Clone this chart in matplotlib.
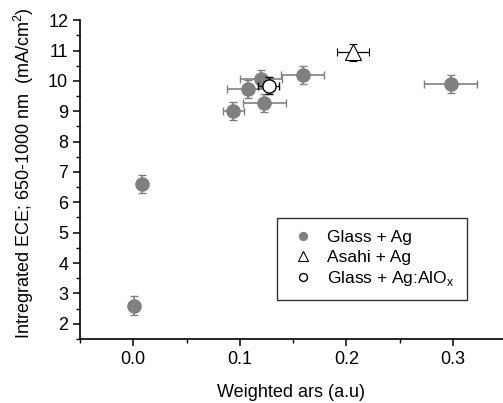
import matplotlib.pyplot as plt
from matplotlib.ticker import MultipleLocator

plt.rcParams['font.family'] = ['Liberation Sans', 'DejaVu Sans']

# Glass + Ag
glass_x = [0.001, 0.0085, 0.094, 0.108, 0.120, 0.123, 0.159, 0.298]
glass_y = [2.6, 6.6, 9.0, 9.72, 10.07, 9.28, 10.2, 9.9]
glass_xerr = [0.0, 0.0, 0.01, 0.02, 0.02, 0.02, 0.02, 0.025]
glass_yerr = [0.3, 0.3, 0.3, 0.3, 0.3, 0.3, 0.3, 0.3]

# Asahi + Ag
asahi_x = [0.206]
asahi_y = [10.95]
asahi_xerr = [0.015]
asahi_yerr = [0.28]

# Glass + Ag:AlOx
alox_x = [0.127]
alox_y = [9.84]
alox_xerr = [0.01]
alox_yerr = [0.28]

fig = plt.figure(figsize=(5.03, 4.03), dpi=100)
ax = fig.add_axes([0.159, 0.159, 0.841, 0.791])

gray = '#808080'
ax.errorbar(glass_x, glass_y, xerr=glass_xerr, yerr=glass_yerr, fmt='o',
            color=gray, ecolor=gray, ms=9.5, elinewidth=1.2, capsize=3,
            capthick=1, label='Glass + Ag')
ax.errorbar(asahi_x, asahi_y, xerr=asahi_xerr, yerr=asahi_yerr, fmt='^',
            mfc='white', mec='black', ecolor='black', ms=11, mew=0.8,
            elinewidth=0.9, capsize=3, capthick=0.9, label='Asahi + Ag')
ax.errorbar(alox_x, alox_y, xerr=alox_xerr, yerr=alox_yerr, fmt='o',
            mfc='white', mec='black', ecolor='black', ms=9.5, mew=1,
            elinewidth=0.9, capsize=3, capthick=0.9, label='Glass + Ag:AlO$_\\mathregular{x}$',
            zorder=3)

ax.set_xlim(-0.05, 0.347)
ax.set_ylim(1.5, 12)
ax.xaxis.set_major_locator(MultipleLocator(0.1))
ax.xaxis.set_minor_locator(MultipleLocator(0.05))
ax.yaxis.set_major_locator(MultipleLocator(1))
ax.yaxis.set_minor_locator(MultipleLocator(0.5))
ax.set_xticks([0.0, 0.1, 0.2, 0.3])
ax.set_xticklabels(['0.0', '0.1', '0.2', '0.3'])
ax.spines['top'].set_visible(False)
ax.spines['right'].set_visible(False)
ax.spines['left'].set_linewidth(1.2)
ax.spines['bottom'].set_linewidth(1.2)
ax.tick_params(which='major', direction='out', length=5, width=1.1, labelsize=13)
ax.tick_params(which='minor', direction='out', length=3, width=1)

ax.set_xlabel('Weighted ars (a.u)', fontsize=13, labelpad=12)
ax.set_ylabel('Intregrated ECE; 650-1000 nm  (mA/cm$^\\mathregular{2}$)', fontsize=13)
ax.yaxis.set_label_coords(-0.103, 0.52)

handles, labels = ax.get_legend_handles_labels()
handles = [h[0] for h in handles]
leg = fig.legend(handles, labels, loc='upper left', bbox_to_anchor=(277 / 503, 1 - 218 / 403),
                 fontsize=12.5, frameon=True, fancybox=False, edgecolor='black',
                 handlelength=1.6, handletextpad=0.6, borderpad=0.7, labelspacing=0.25,
                 markerscale=0.6, borderaxespad=0)
leg.get_frame().set_linewidth(1)

fig.savefig('out.png', dpi=100)
